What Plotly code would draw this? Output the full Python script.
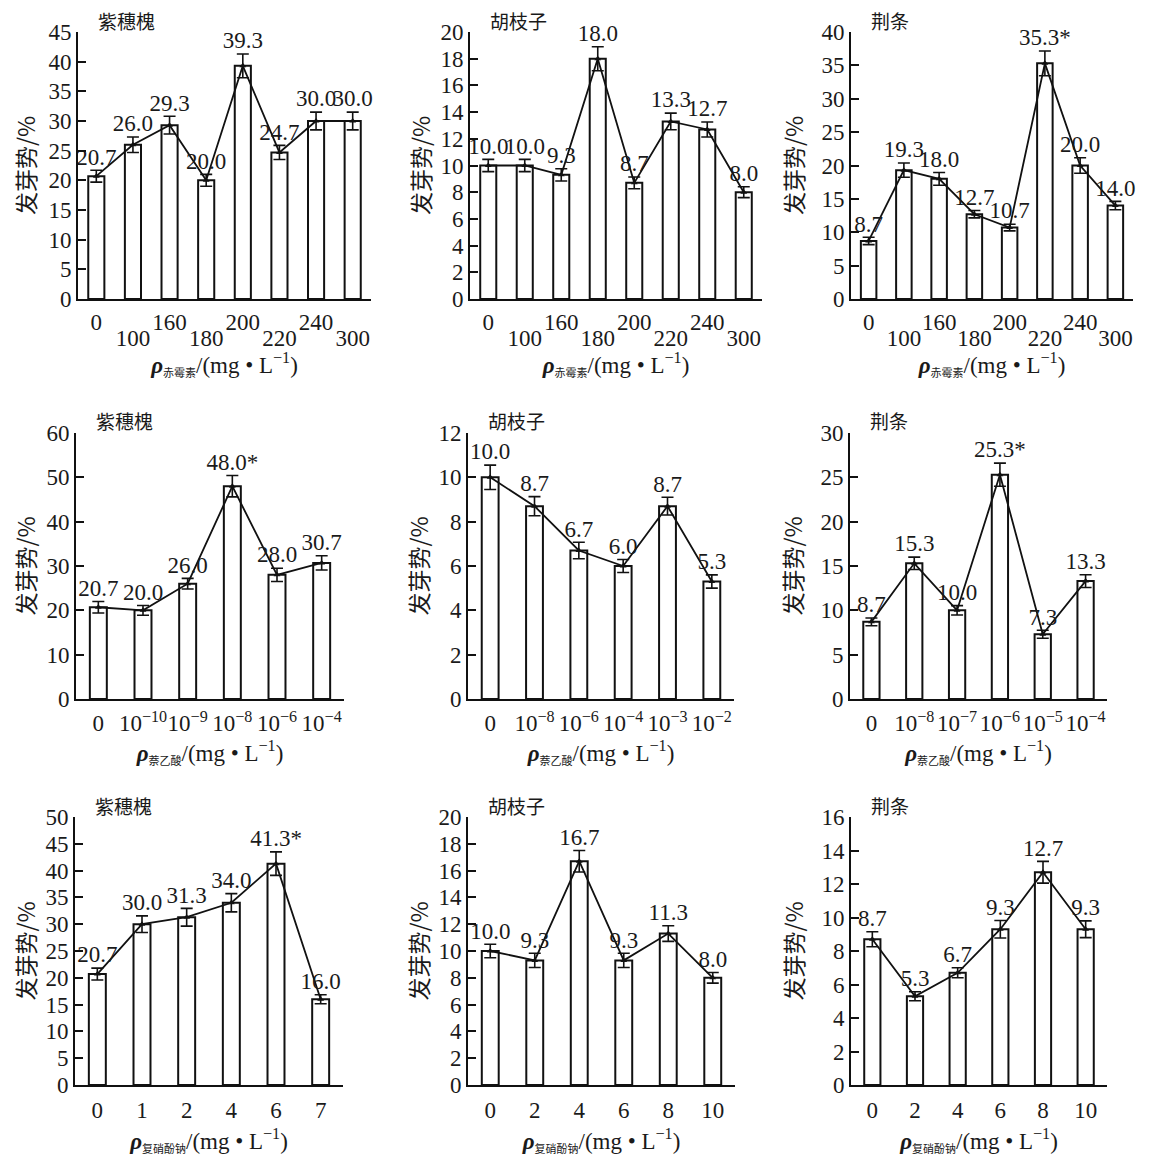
import plotly.graph_objects as go

W, H = 1149, 1157
OFF = 8  # page body margin of the rendered html
FONT = "Liberation Serif, Times New Roman, Noto Sans CJK SC, serif"
CJK = "Noto Sans CJK SC, Liberation Serif, serif"

# ---------------- data ----------------
species = ["紫穗槐", "胡枝子", "荆条"]
y_title = "发芽势/%"

# Row 1: gibberellin (赤霉素)
ga_ticks = ["0", "100", "160", "180", "200", "220", "240", "300"]
ga_zsh_vals = [20.7, 26.0, 29.3, 20.0, 39.3, 24.7, 30.0, 30.0]
ga_zsh_err = [1.0, 1.3, 1.5, 1.0, 2.0, 1.2, 1.5, 1.5]
ga_zsh_sig = [0, 0, 0, 0, 0, 0, 0, 0]
ga_hzz_vals = [10.0, 10.0, 9.3, 18.0, 8.7, 13.3, 12.7, 8.0]
ga_hzz_err = [0.46, 0.46, 0.46, 0.9, 0.44, 0.62, 0.56, 0.41]
ga_hzz_sig = [0, 0, 0, 0, 0, 0, 0, 0]
ga_jt_vals = [8.7, 19.3, 18.0, 12.7, 10.7, 35.3, 20.0, 14.0]
ga_jt_err = [0.55, 1.07, 0.95, 0.55, 0.5, 1.85, 1.15, 0.62]
ga_jt_sig = [0, 0, 0, 0, 0, 1, 0, 0]

# Row 2: naphthylacetic acid (萘乙酸)
naa_zsh_ticks = ["0", "10<sup>−10</sup>", "10<sup>−9</sup>", "10<sup>−8</sup>", "10<sup>−6</sup>", "10<sup>−4</sup>"]
naa_zsh_vals = [20.7, 20.0, 26.0, 48.0, 28.0, 30.7]
naa_zsh_err = [1.3, 1.1, 1.2, 2.4, 1.5, 1.6]
naa_zsh_sig = [0, 0, 0, 1, 0, 0]
naa_hzz_ticks = ["0", "10<sup>−8</sup>", "10<sup>−6</sup>", "10<sup>−4</sup>", "10<sup>−3</sup>", "10<sup>−2</sup>"]
naa_hzz_vals = [10.0, 8.7, 6.7, 6.0, 8.7, 5.3]
naa_hzz_err = [0.55, 0.43, 0.37, 0.29, 0.4, 0.3]
naa_hzz_sig = [0, 0, 0, 0, 0, 0]
naa_jt_ticks = ["0", "10<sup>−8</sup>", "10<sup>−7</sup>", "10<sup>−6</sup>", "10<sup>−5</sup>", "10<sup>−4</sup>"]
naa_jt_vals = [8.7, 15.3, 10.0, 25.3, 7.3, 13.3]
naa_jt_err = [0.44, 0.7, 0.53, 1.3, 0.45, 0.72]
naa_jt_sig = [0, 0, 0, 1, 0, 0]

# Row 3: sodium nitrophenolate (复硝酚钠)
sn_zsh_ticks = ["0", "1", "2", "4", "6", "7"]
sn_zsh_vals = [20.7, 30.0, 31.3, 34.0, 41.3, 16.0]
sn_zsh_err = [1.1, 1.55, 1.65, 1.7, 2.2, 0.85]
sn_zsh_sig = [0, 0, 0, 0, 1, 0]
sn_ticks = ["0", "2", "4", "6", "8", "10"]
sn_hzz_vals = [10.0, 9.3, 16.7, 9.3, 11.3, 8.0]
sn_hzz_err = [0.5, 0.53, 0.8, 0.53, 0.58, 0.4]
sn_hzz_sig = [0, 0, 0, 0, 0, 0]
sn_jt_vals = [8.7, 5.3, 6.7, 9.3, 12.7, 9.3]
sn_jt_err = [0.45, 0.27, 0.3, 0.52, 0.65, 0.5]
sn_jt_sig = [0, 0, 0, 0, 0, 0]

reagents = ["赤霉素", "萘乙酸", "复硝酚钠"]

panels = [
    (ga_ticks, ga_zsh_vals, ga_zsh_err, ga_zsh_sig),
    (ga_ticks, ga_hzz_vals, ga_hzz_err, ga_hzz_sig),
    (ga_ticks, ga_jt_vals, ga_jt_err, ga_jt_sig),
    (naa_zsh_ticks, naa_zsh_vals, naa_zsh_err, naa_zsh_sig),
    (naa_hzz_ticks, naa_hzz_vals, naa_hzz_err, naa_hzz_sig),
    (naa_jt_ticks, naa_jt_vals, naa_jt_err, naa_jt_sig),
    (sn_zsh_ticks, sn_zsh_vals, sn_zsh_err, sn_zsh_sig),
    (sn_ticks, sn_hzz_vals, sn_hzz_err, sn_hzz_sig),
    (sn_ticks, sn_jt_vals, sn_jt_err, sn_jt_sig),
]
y_max = [45, 20, 40, 60, 12, 30, 50, 20, 16]
y_dtick = [5, 2, 5, 10, 2, 5, 5, 2, 2]

# ---------------- layout geometry (screen pixels) ----------------
x_px = [(78, 371), (470, 762), (851, 1133),
        (76, 344), (468, 734), (850, 1107),
        (75, 343), (468, 735), (851, 1107)]
y_px = [(299, 32), (699, 433), (1085, 817)]  # (zero line, top)
ytitle_standoff = [19, 4, 12]
xtitle_standoff = [22, 9, 10]
tick_standoff = [2, 3, 4]

def xd(a, b):
    return [(a - OFF) / W, (b - OFF) / W]

def yd(bot, top):
    return [1 - (bot - OFF) / H, 1 - (top - OFF) / H]

fig = go.Figure()
layout = dict(
    template="none",
    width=W, height=H, margin=dict(l=0, r=0, t=0, b=0, pad=0, autoexpand=False),
    paper_bgcolor="white", plot_bgcolor="white", showlegend=False,
    font=dict(family=FONT, size=23, color="#1a1a1a"),
)
annotations = []
TXT = "#1a1a1a"

for k, (ticks, vals, err, sig) in enumerate(panels):
    i = k + 1
    row, col = divmod(k, 3)
    n = len(vals)
    idx = list(range(n))
    xs = "x" if i == 1 else f"x{i}"
    ys = "y" if i == 1 else f"y{i}"
    bw = 0.44 if row == 0 else 0.38

    fig.add_trace(go.Bar(
        x=idx, y=vals, width=bw, xaxis=xs, yaxis=ys,
        marker=dict(color="white", line=dict(color="#111", width=2)),
        hoverinfo="skip"))
    fig.add_trace(go.Scatter(
        x=idx, y=vals, mode="lines+markers", xaxis=xs, yaxis=ys,
        line=dict(color="#111", width=1.8),
        marker=dict(symbol="triangle-up", size=6, color="#111"),
        error_y=dict(type="data", array=err, color="#111", thickness=1.6, width=6),
        hoverinfo="skip"))
    labels = [f"{v:.1f}" + ("*" if s else "") for v, s in zip(vals, sig)]
    fig.add_trace(go.Scatter(
        x=idx, y=[v + e for v, e in zip(vals, err)], mode="text", text=labels,
        textposition="top center", xaxis=xs, yaxis=ys, cliponaxis=False,
        textfont=dict(family=FONT, size=23, color=TXT),
        hoverinfo="skip"))

    xa = dict(
        domain=xd(*x_px[k]), anchor=ys, range=[-0.5, n - 0.5], automargin=False,
        showline=True, linecolor="#111", linewidth=1.6, showgrid=False,
        zeroline=False, ticks="", fixedrange=True, tickangle=0,
        tickfont=dict(family=FONT, size=23, color=TXT),
        title=dict(
            text=f"<b><i>ρ</i></b><sub><span style='font-size:11px'>{reagents[row]}</span></sub>/(mg • L<sup>−1</sup>)",
            font=dict(family=FONT, size=23, color=TXT), standoff=xtitle_standoff[row]),
        ticklabelstandoff=tick_standoff[row],
    )
    if row == 0:
        xa["tickvals"] = idx[0::2]
        xa["ticktext"] = ticks[0::2]
    else:
        xa["tickvals"] = idx
        xa["ticktext"] = ticks
    ya = dict(
        domain=yd(*y_px[row]), anchor=xs, range=[0, y_max[k]], dtick=y_dtick[k],
        automargin=False,
        showline=True, linecolor="#111", linewidth=1.6, showgrid=False,
        zeroline=False, ticks="inside", ticklen=8, tickwidth=1.6, tickcolor="#111",
        fixedrange=True,
        tickfont=dict(family=FONT, size=23, color=TXT),
        title=dict(text=y_title, font=dict(family=CJK, size=23, color=TXT),
                   standoff=ytitle_standoff[col]),
    )
    layout["xaxis" if i == 1 else f"xaxis{i}"] = xa
    layout["yaxis" if i == 1 else f"yaxis{i}"] = ya

    annotations.append(dict(
        text=species[col], xref=f"{xs} domain", yref=f"{ys} domain",
        x=0, y=1, xanchor="left", yanchor="middle", xshift=19, yshift=12,
        borderpad=0, showarrow=False, font=dict(family=CJK, size=19, color=TXT)))

# overlay axes carrying the staggered (lower) tick labels of row 1
for c in range(3):
    base = c + 1
    j = 10 + c
    xs_base = "x" if base == 1 else f"x{base}"
    ys_base = "y" if base == 1 else f"y{base}"
    ticks, vals = panels[c][0], panels[c][1]
    n = len(vals)
    idx = list(range(n))
    fig.add_trace(go.Scatter(x=idx, y=vals, mode="none", xaxis=f"x{j}",
                             yaxis=ys_base, hoverinfo="skip"))
    layout[f"xaxis{j}"] = dict(
        overlaying=xs_base, anchor=ys_base, side="bottom", range=[-0.5, n - 0.5],
        automargin=False, tickangle=0,
        showline=False, showgrid=False, zeroline=False, ticks="", fixedrange=True,
        tickvals=idx[1::2], ticktext=ticks[1::2], ticklabelstandoff=23,
        tickfont=dict(family=FONT, size=23, color=TXT))

layout["annotations"] = annotations
fig.update_layout(**layout)
fig.write_html("out.html")
